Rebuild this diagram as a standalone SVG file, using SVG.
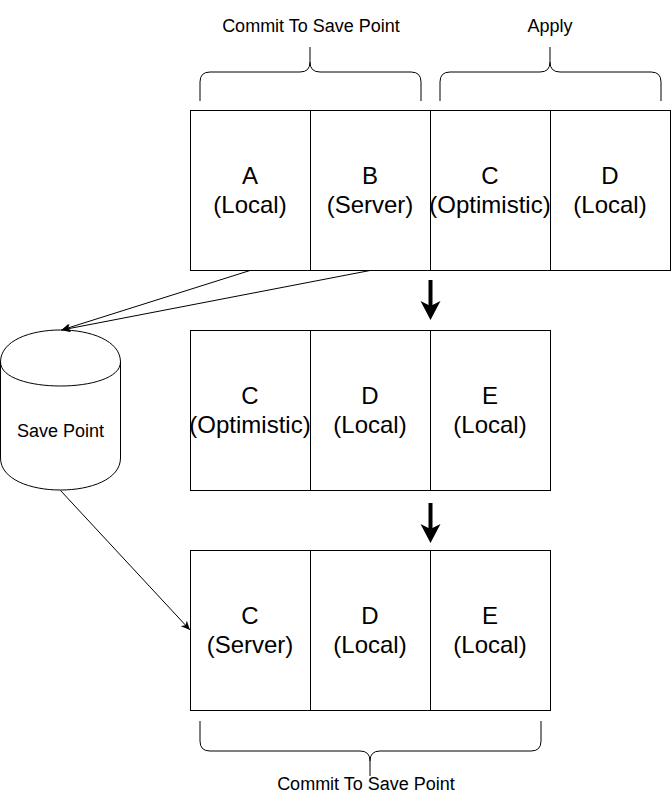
<svg xmlns="http://www.w3.org/2000/svg" width="671" height="810" viewBox="0 0 671 810">
<style>
.cell{fill:#fff;stroke:#000;stroke-width:1}
.t{font-family:"Liberation Sans",Arial,sans-serif;font-size:24px;fill:#000;text-anchor:middle}
.lbl{font-family:"Liberation Sans",Arial,sans-serif;font-size:18px;fill:#000;text-anchor:middle}
.brace{fill:none;stroke:#000;stroke-width:1}
.thin{fill:none;stroke:#000;stroke-width:1}
.thick{fill:none;stroke:#000;stroke-width:4}
</style>
<defs>
<marker id="ah" markerWidth="10" markerHeight="8" refX="9" refY="4" orient="auto" markerUnits="userSpaceOnUse">
<path d="M0,0 L9,4 L0,8 L2.5,4 Z" fill="#000"/>
</marker>
</defs>
<rect width="671" height="810" fill="#fff"/>
<g id="labels">
<text class="lbl" x="311" y="32">Commit To Save Point</text>
<text class="lbl" x="550" y="32">Apply</text>
<text class="lbl" x="366" y="790">Commit To Save Point</text>
</g>
<g id="braces">
<path class="brace" d="M200,101 V82 Q200,72 210,72 H300 Q310,72 310,62 V47 M310,62 Q310,72 320,72 H411 Q421,72 421,82 V101"/>
<path class="brace" d="M440,101 V82 Q440,72 450,72 H540 Q550,72 550,62 V47 M550,62 Q550,72 560,72 H651 Q661,72 661,82 V101"/>
<path class="brace" d="M200,721 V741 Q200,751 210,751 H360 Q370,751 370,761 V776 M370,761 Q370,751 380,751 H531 Q541,751 541,741 V721"/>
</g>
<g id="row1">
<g id="A1"><rect class="cell" x="190.5" y="110.5" width="120" height="160"/><text class="t" x="250" y="184">A</text><text class="t" x="250" y="213">(Local)</text></g>
<g id="B1"><rect class="cell" x="310.5" y="110.5" width="120" height="160"/><text class="t" x="370" y="184">B</text><text class="t" x="370" y="213">(Server)</text></g>
<g id="C1"><rect class="cell" x="430.5" y="110.5" width="120" height="160"/><text class="t" x="490" y="184">C</text><text class="t" x="490" y="213">(Optimistic)</text></g>
<g id="D1"><rect class="cell" x="550.5" y="110.5" width="120" height="160"/><text class="t" x="610" y="184">D</text><text class="t" x="610" y="213">(Local)</text></g>
</g>
<g id="row2">
<g id="C2"><rect class="cell" x="190.5" y="330.5" width="120" height="160"/><text class="t" x="250" y="404">C</text><text class="t" x="250" y="433">(Optimistic)</text></g>
<g id="D2"><rect class="cell" x="310.5" y="330.5" width="120" height="160"/><text class="t" x="370" y="404">D</text><text class="t" x="370" y="433">(Local)</text></g>
<g id="E2"><rect class="cell" x="430.5" y="330.5" width="120" height="160"/><text class="t" x="490" y="404">E</text><text class="t" x="490" y="433">(Local)</text></g>
</g>
<g id="row3">
<g id="C3"><rect class="cell" x="190.5" y="550.5" width="120" height="160"/><text class="t" x="250" y="624">C</text><text class="t" x="250" y="653">(Server)</text></g>
<g id="D3"><rect class="cell" x="310.5" y="550.5" width="120" height="160"/><text class="t" x="370" y="624">D</text><text class="t" x="370" y="653">(Local)</text></g>
<g id="E3"><rect class="cell" x="430.5" y="550.5" width="120" height="160"/><text class="t" x="490" y="624">E</text><text class="t" x="490" y="653">(Local)</text></g>
</g>
<g id="savepoint">
<path d="M0.5,362 C0.5,319.3 120.5,319.3 120.5,362 V458 C120.5,500.7 0.5,500.7 0.5,458 Z" fill="#fff" stroke="#000" stroke-width="1"/>
<path d="M0.5,362 C0.5,394 120.5,394 120.5,362" fill="none" stroke="#000" stroke-width="1"/>
<text class="lbl" x="60.5" y="437">Save Point</text>
</g>
<g id="connectors">
<line class="thin" x1="250" y1="270.5" x2="61.5" y2="330" marker-end="url(#ah)"/>
<line class="thin" x1="370" y1="270.5" x2="61.5" y2="330" marker-end="url(#ah)"/>
<line class="thin" x1="60.5" y1="490.5" x2="190" y2="630" marker-end="url(#ah)"/>
<line class="thick" x1="430.5" y1="280" x2="430.5" y2="306"/>
<path d="M420.5,301 L430.5,320 L440.5,301 L430.5,306 Z" fill="#000"/>
<line class="thick" x1="430.5" y1="503" x2="430.5" y2="529"/>
<path d="M420.5,524 L430.5,543 L440.5,524 L430.5,529 Z" fill="#000"/>
</g>
</svg>
